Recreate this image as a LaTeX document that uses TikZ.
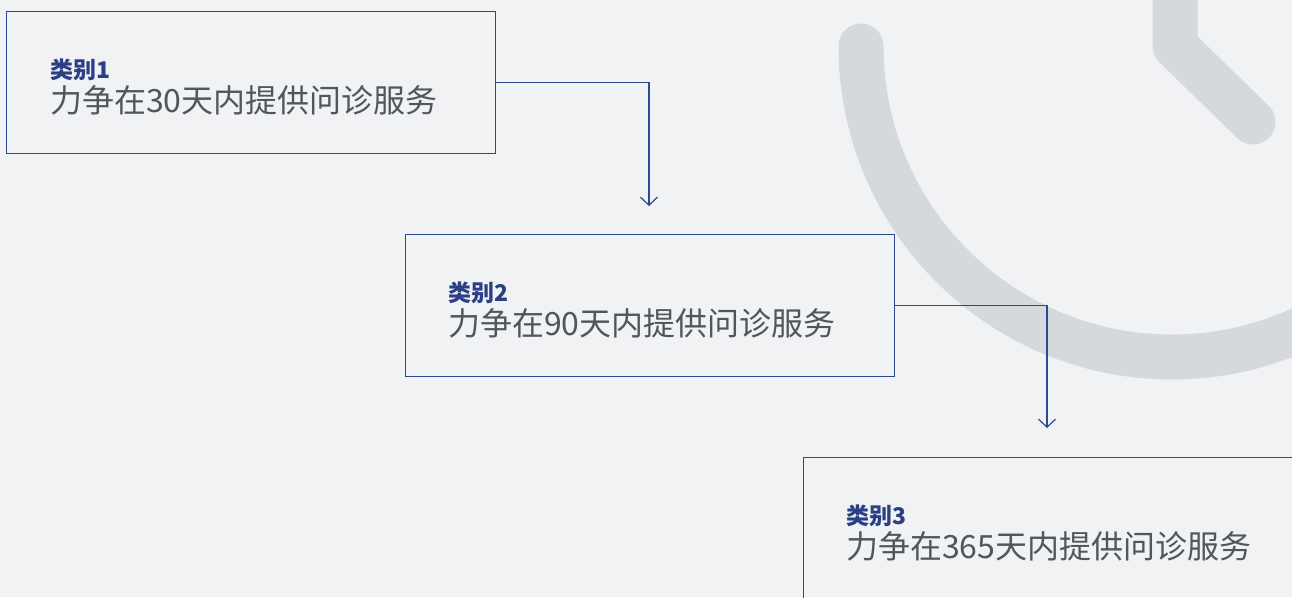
\documentclass[tikz,border=0pt]{standalone}
\usepackage{fontspec}
\newfontfamily\cjk{Noto Sans CJK SC}
\usetikzlibrary{arrows.meta}
\definecolor{bg}{HTML}{F1F2F4}
\definecolor{clockgray}{HTML}{D5D8DD}
\definecolor{navy}{HTML}{2B4A8F}
\definecolor{titleblue}{HTML}{2A3F85}
\definecolor{textgray}{HTML}{51565C}
\tikzset{
  box/.style={draw=navy, line width=1.2pt, rectangle, minimum width=489pt, minimum height=142pt, anchor=north west, inner sep=0pt},
  conn/.style={draw=navy, line width=1.2pt, -{Straight Barb[length=8pt,width=17pt,line width=1.2pt]}},
  ttl/.style={anchor=base west, inner sep=0pt, font=\cjk\bfseries\fontsize{23}{27}\selectfont, text=titleblue},
  body/.style={anchor=base west, inner sep=0pt, font=\cjk\fontsize{32}{38}\selectfont, text=textgray},
  clock/.style={draw=clockgray, line width=45pt, line cap=round, line join=round}
}
\begin{document}
\begin{tikzpicture}[x=1pt,y=-1pt]
\useasboundingbox (0,0) rectangle (1292,597);
\fill[bg] (0,0) rectangle (1292,597);
\begin{scope}
\clip (0,0) rectangle (1292,597);
% clock
\draw[clock] (861,46) arc[start angle=180, end angle=20, radius=311];
\draw[clock] (1175,-40) -- (1175,46) -- (1253,122);
% boxes
\node[box] (b1) at (6,11) {};
\node[box] (b2) at (405,234) {};
\node[box] (b3) at (803,457) {};
\end{scope}
\node[ttl] (t1) at (50,78) {类别1};
\node[body] (m1) at (50,112) {力争在30天内提供问诊服务};
\node[ttl] (t2) at (448,301) {类别2};
\node[body] (m2) at (448,335) {力争在90天内提供问诊服务};
\node[ttl] (t3) at (846,524) {类别3};
\node[body] (m3) at (846,558) {力争在365天内提供问诊服务};
\coordinate (a1) at (649,206);
\coordinate (a2) at (1047,428);
\draw[conn] (b1.east) -| (a1);
\draw[conn] (b2.east) -| (a2);
\end{tikzpicture}
\end{document}
